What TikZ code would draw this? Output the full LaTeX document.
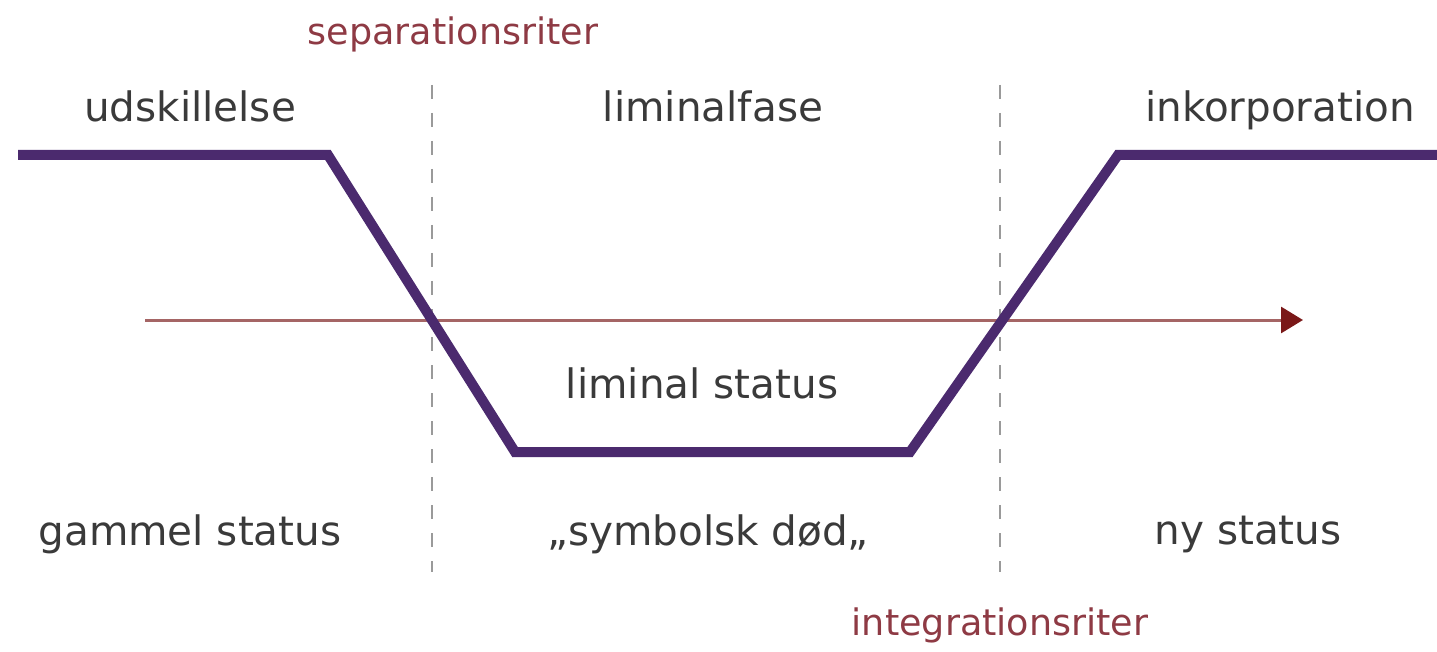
\documentclass[tikz,border=0pt]{standalone}
\usepackage{fontspec}
\setmainfont{DejaVu Sans}
\usetikzlibrary{arrows.meta}
\definecolor{purp}{HTML}{4B2A6E}
\definecolor{rline}{HTML}{A56565}
\definecolor{rhead}{HTML}{7A1818}
\definecolor{rtext}{HTML}{8E3A44}
\definecolor{gtext}{HTML}{3A3A3A}
\definecolor{dgray}{HTML}{9A9A9A}
\tikzset{
  lbl/.style={font=\fontsize{40.5}{46}\selectfont, text=gtext, inner sep=0pt, anchor=base},
  rite/.style={font=\fontsize{36.5}{42}\selectfont, text=rtext, inner sep=0pt, anchor=base},
  phase/.style={draw=purp, line width=10pt, line join=miter},
  divider/.style={draw=dgray, line width=2pt, dash pattern=on 14pt off 14pt},
  timeline/.style={draw=rline, line width=3pt, -{Triangle[length=22pt,width=26pt,color=rhead]}}
}
\begin{document}
\begin{tikzpicture}[x=1pt,y=-1pt]
\useasboundingbox (0,0) rectangle (1437,652);
% dividers
\coordinate (d1t) at (432,85); \coordinate (d1b) at (432,572);
\coordinate (d2t) at (1000,85); \coordinate (d2b) at (1000,572);
\path[divider] (d1t) -- (d1b);
\path[divider] (d2t) -- (d2b);
% timeline
\coordinate (ts) at (145,320); \coordinate (te) at (1303,320);
\path[timeline] (ts) -- (te);
% status line
\coordinate (p0) at (18,155);
\coordinate (p1) at (328,155);
\coordinate (p2) at (515,452);
\coordinate (p3) at (910,452);
\coordinate (p4) at (1118,155);
\coordinate (p5) at (1440,155);
\path[phase] (p0) -- (p1) -- (p2) -- (p3) -- (p4) -- (p5);
% labels
\node[rite] (sep) at (453,45) {separationsriter};
\node[rite] (int) at (1000,635) {integrationsriter};
\node[lbl] (uds) at (190,122) {udskillelse};
\node[lbl] (lf) at (713,122) {liminalfase};
\node[lbl] (ink) at (1280,122) {inkorporation};
\node[lbl] (ls) at (702,398) {liminal status};
\node[lbl] (gs) at (190,545) {gammel status};
\node[lbl] (sd) at (708,545) {„symbolsk død„};
\node[lbl] (ns) at (1248,544) {ny status};
\end{tikzpicture}
\end{document}
